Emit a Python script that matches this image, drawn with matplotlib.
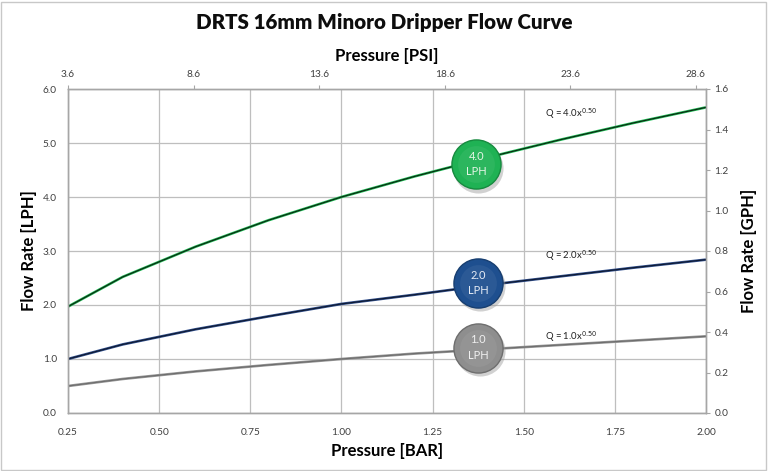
import matplotlib
matplotlib.use("Agg")
import matplotlib.pyplot as plt
from matplotlib.patches import Rectangle

plt.rcParams['font.family'] = ['Lato', 'DejaVu Sans']

# ---- data ----
pressure_bar = [0.25, 0.40, 0.60, 0.80, 1.00, 1.20, 1.40, 1.60, 1.80, 2.00]
flow_4lph = [1.97, 2.52, 3.08, 3.57, 4.00, 4.38, 4.73, 5.06, 5.37, 5.66]
flow_2lph = [1.00, 1.27, 1.55, 1.79, 2.02, 2.19, 2.37, 2.53, 2.69, 2.84]
flow_1lph = [0.50, 0.63, 0.77, 0.89, 1.00, 1.10, 1.18, 1.26, 1.34, 1.42]

bar_ticks = [0.25, 0.50, 0.75, 1.00, 1.25, 1.50, 1.75, 2.00]
bar_ticklabels = ["0.25", "0.50", "0.75", "1.00", "1.25", "1.50", "1.75", "2.00"]
psi_ticks = [3.6, 8.6, 13.6, 18.6, 23.6, 28.6]
lph_ticks = [0, 1, 2, 3, 4, 5, 6]
gph_ticks = [0.0, 0.2, 0.4, 0.6, 0.8, 1.0, 1.2, 1.4, 1.6]

equations = ["Q = 4.0x$^{0.50}$", "Q = 2.0x$^{0.50}$", "Q = 1.0x$^{0.50}$"]
eq_pos = [(1.63, 5.54), (1.63, 2.91), (1.63, 1.42)]
badge_labels = ["4.0\nLPH", "2.0\nLPH", "1.0\nLPH"]
badge_pos = [(1.37, 4.61), (1.375, 2.41), (1.375, 1.21)]

series = [flow_4lph, flow_2lph, flow_1lph]
line_colors = ["#22C05A", "#34528F", "#9A9A9A"]
trend_colors = ["#0B2A12", "#0E1A33", "#6E6E6E"]
badge_colors = ["#1FB254", "#1E4F8F", "#8E8E8E"]
badge_edges = ["#178A3F", "#173E70", "#6E6E6E"]
badge_text = ["#E6F5E6", "#E6ECF5", "#F0F0F0"]

fig = plt.figure(figsize=(7.68, 4.71), dpi=100)
ax = fig.add_axes([68/768, 58/471, 638/768, 324/471])

grid_c = "#BEBEBE"
for xv in bar_ticks:
    ax.axvline(xv, color=grid_c, lw=0.9, zorder=0)
for yv in lph_ticks:
    ax.axhline(yv, color=grid_c, lw=0.9, zorder=0)

for ys, lc, tc in zip(series, line_colors, trend_colors):
    ax.plot(pressure_bar, ys, color=lc, lw=1.9, zorder=2, solid_capstyle='butt')
    ax.plot(pressure_bar, ys, color=tc, lw=0.9, zorder=3)

for txt, (x, y) in zip(equations, eq_pos):
    ax.text(x, y, txt, fontsize=6.8, color="#202020", ha="center", va="center", zorder=5)

for lab, (x, y), fc, ec, tcol in zip(badge_labels, badge_pos, badge_colors, badge_edges, badge_text):
    ax.scatter([x], [y], s=1300, color="#9A9A9A", alpha=0.45, zorder=6,
               linewidths=0, transform=ax.transData +
               matplotlib.transforms.ScaledTranslation(1.5/72, -2.5/72, fig.dpi_scale_trans))
    ax.scatter([x], [y], s=1250, color=fc, edgecolors=ec, linewidths=1.0, zorder=7)
    ax.scatter([x], [y], s=700, color="white", alpha=0.06, linewidths=0, zorder=8)
    ax.text(x, y, lab, fontsize=8, color=tcol, ha="center", va="center",
            linespacing=1.5, zorder=9)

ax.set_xlim(0.25, 2.00)
ax.set_ylim(0, 6)
ax.set_xticks(bar_ticks)
ax.set_xticklabels(bar_ticklabels)
ax.set_yticks(lph_ticks)
ax.set_yticklabels([f"{v:.1f}" for v in lph_ticks])
ax.tick_params(axis='both', length=0, labelsize=7.3, colors="#404040", pad=8)
ax.tick_params(axis='x', pad=11)
ax.set_xlabel("Pressure [BAR]", fontsize=12, fontweight="bold", labelpad=4)
ax.set_ylabel("Flow Rate [LPH]", fontsize=12, fontweight="bold", labelpad=4)

for s in ax.spines.values():
    s.set_color("#A6A6A6")
    s.set_linewidth(0.9)

axR = ax.twinx()
axR.set_ylim(0, 1.6)
axR.set_yticks(gph_ticks)
axR.set_yticklabels([f"{v:.1f}" for v in gph_ticks])
axR.tick_params(axis='y', length=3, width=0.8, color="#A6A6A6", labelsize=7.3,
                labelcolor="#404040", pad=3)
axR.set_ylabel("Flow Rate [GPH]", fontsize=12, fontweight="bold", labelpad=9)
for s in axR.spines.values():
    s.set_color("#A6A6A6")
    s.set_linewidth(0.9)

axT = ax.twiny()
axT.set_xlim(3.6, 29.0)
axT.set_xticks(psi_ticks)
axT.set_xticklabels([f"{v:.1f}" for v in psi_ticks])
axT.tick_params(axis='x', length=3, width=0.8, color="#A6A6A6", labelsize=7.3,
                labelcolor="#404040", pad=4)
axT.set_xlabel("Pressure [PSI]", fontsize=12, fontweight="bold", labelpad=7)
for s in axT.spines.values():
    s.set_color("#A6A6A6")
    s.set_linewidth(0.9)

fig.suptitle("DRTS 16mm Minoro Dripper Flow Curve", fontsize=14.8, fontweight="heavy",
             y=1 - 22/471, va="center", color="#0D0D0D")

fig.patches.append(Rectangle((1/768, 1/471), 765/768, 468/471, transform=fig.transFigure,
                             fill=False, edgecolor="#C8C8C8", lw=1.0))

fig.savefig("out.png", dpi=100)
